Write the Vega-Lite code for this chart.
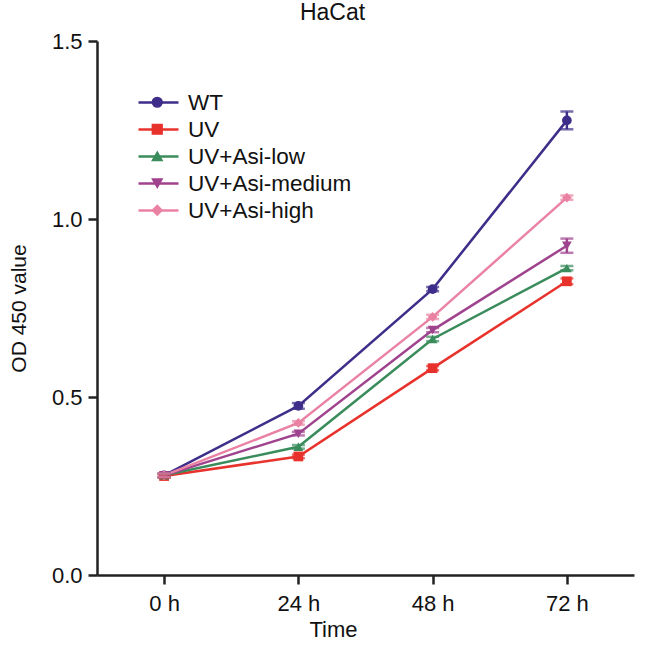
{
  "$schema": "https://vega.github.io/schema/vega-lite/v6.json",
  "width": 537,
  "height": 534,
  "autosize": {"type": "none"},
  "padding": {"left": 97, "top": 41, "right": 12, "bottom": 79},
  "background": "white",
  "config": {
    "view": {"stroke": null},
    "font": "Liberation Sans",
    "axis": {"grid": false, "domainColor": "#222", "tickColor": "#222", "domainWidth": 2.5, "tickWidth": 2.5, "labelColor": "#111", "titleColor": "#111", "labelFont": "Liberation Sans", "titleFont": "Liberation Sans", "titleFontWeight": "normal"},
    "legend": {"labelFont": "Liberation Sans", "labelColor": "#111", "labelLimit": 400}
  },
  "title": {"text": "HaCat", "fontSize": 23, "fontWeight": "normal", "font": "Liberation Sans", "color": "#111", "anchor": "middle", "dx": -33, "offset": 5},
  "data": {
    "values": [
      {"time": "0 h", "group": "WT", "value": 0.28, "err": 0.005},
      {"time": "24 h", "group": "WT", "value": 0.475, "err": 0.008},
      {"time": "48 h", "group": "WT", "value": 0.803, "err": 0.006},
      {"time": "72 h", "group": "WT", "value": 1.277, "err": 0.025},
      {"time": "0 h", "group": "UV", "value": 0.278, "err": 0.005},
      {"time": "24 h", "group": "UV", "value": 0.333, "err": 0.005},
      {"time": "48 h", "group": "UV", "value": 0.581, "err": 0.006},
      {"time": "72 h", "group": "UV", "value": 0.825, "err": 0.008},
      {"time": "0 h", "group": "UV+Asi-low", "value": 0.28, "err": 0.005},
      {"time": "24 h", "group": "UV+Asi-low", "value": 0.36, "err": 0.005},
      {"time": "48 h", "group": "UV+Asi-low", "value": 0.663, "err": 0.006},
      {"time": "72 h", "group": "UV+Asi-low", "value": 0.862, "err": 0.006},
      {"time": "0 h", "group": "UV+Asi-medium", "value": 0.28, "err": 0.005},
      {"time": "24 h", "group": "UV+Asi-medium", "value": 0.397, "err": 0.005},
      {"time": "48 h", "group": "UV+Asi-medium", "value": 0.688, "err": 0.006},
      {"time": "72 h", "group": "UV+Asi-medium", "value": 0.925, "err": 0.02},
      {"time": "0 h", "group": "UV+Asi-high", "value": 0.28, "err": 0.005},
      {"time": "24 h", "group": "UV+Asi-high", "value": 0.427, "err": 0.005},
      {"time": "48 h", "group": "UV+Asi-high", "value": 0.725, "err": 0.006},
      {"time": "72 h", "group": "UV+Asi-high", "value": 1.06, "err": 0.006}
    ]
  },
  "transform": [
    {"calculate": "datum.value - datum.err", "as": "lo"},
    {"calculate": "datum.value + datum.err", "as": "hi"}
  ],
  "encoding": {
    "x": {"field": "time", "type": "ordinal", "sort": ["0 h", "24 h", "48 h", "72 h"],
      "scale": {"type": "point", "padding": 0.5},
      "axis": {"title": "Time", "labelAngle": 0, "labelFontSize": 22, "titleFontSize": 22, "tickSize": 9, "labelPadding": 9, "titlePadding": 5, "titleX": 236}}
  },
  "layer": [
    {
      "mark": {"type": "point", "filled": true, "opacity": 1, "size": 95},
      "encoding": {
        "y": {"field": "value", "type": "quantitative", "scale": {"domain": [0, 1.5], "nice": false},
          "axis": {"title": "OD 450 value", "values": [0, 0.5, 1.0, 1.5], "format": ".1f", "labelFontSize": 22, "titleFontSize": 21, "tickSize": 9, "labelPadding": 6, "titlePadding": 22}},
        "color": {"field": "group", "type": "nominal",
          "scale": {"domain": ["WT", "UV", "UV+Asi-low", "UV+Asi-medium", "UV+Asi-high"], "range": ["#3f2d8a", "#e8322c", "#3a8c5c", "#a0438e", "#ea82a3"]},
          "legend": {"orient": "top-left", "offset": 50, "title": null, "symbolSize": 95, "symbolOffset": -1, "labelFontSize": 22.5, "labelOpacity": 0, "labelOffset": 5, "rowPadding": 4}},
        "shape": {"field": "group", "type": "nominal",
          "scale": {"domain": ["WT", "UV", "UV+Asi-low", "UV+Asi-medium", "UV+Asi-high"], "range": ["circle", "square", "triangle-up", "triangle-down", "diamond"]},
          "legend": {"orient": "top-left", "offset": 50, "title": null, "symbolSize": 95, "symbolOffset": -1, "labelFontSize": 22.5, "labelOpacity": 0, "labelOffset": 5, "rowPadding": 4}}
      }
    },
    {
      "mark": {"type": "line", "strokeWidth": 2.5},
      "encoding": {
        "y": {"field": "value", "type": "quantitative", "scale": {"domain": [0, 1.5], "nice": false}},
        "stroke": {"field": "group", "type": "nominal",
          "scale": {"domain": ["WT", "UV", "UV+Asi-low", "UV+Asi-medium", "UV+Asi-high"], "range": ["#3f2d8a", "#e8322c", "#3a8c5c", "#a0438e", "#ea82a3"]},
          "legend": {"orient": "none", "legendX": 50, "legendY": 50, "title": null, "symbolType": "M-2,0H2", "symbolSize": 400, "symbolStrokeWidth": 2.5, "labelFontSize": 22.5, "labelOffset": 18, "rowPadding": 4}}
      }
    },
    {
      "mark": {"type": "rule", "strokeWidth": 2.5},
      "encoding": {
        "y": {"field": "lo", "type": "quantitative", "scale": {"domain": [0, 1.5], "nice": false}},
        "y2": {"field": "hi"},
        "color": {"field": "group", "type": "nominal", "legend": null}
      }
    },
    {
      "mark": {"type": "tick", "orient": "horizontal", "size": 13, "thickness": 2.5},
      "encoding": {
        "y": {"field": "lo", "type": "quantitative", "scale": {"domain": [0, 1.5], "nice": false}},
        "color": {"field": "group", "type": "nominal", "legend": null}
      }
    },
    {
      "mark": {"type": "tick", "orient": "horizontal", "size": 13, "thickness": 2.5},
      "encoding": {
        "y": {"field": "hi", "type": "quantitative", "scale": {"domain": [0, 1.5], "nice": false}},
        "color": {"field": "group", "type": "nominal", "legend": null}
      }
    }
  ]
}
